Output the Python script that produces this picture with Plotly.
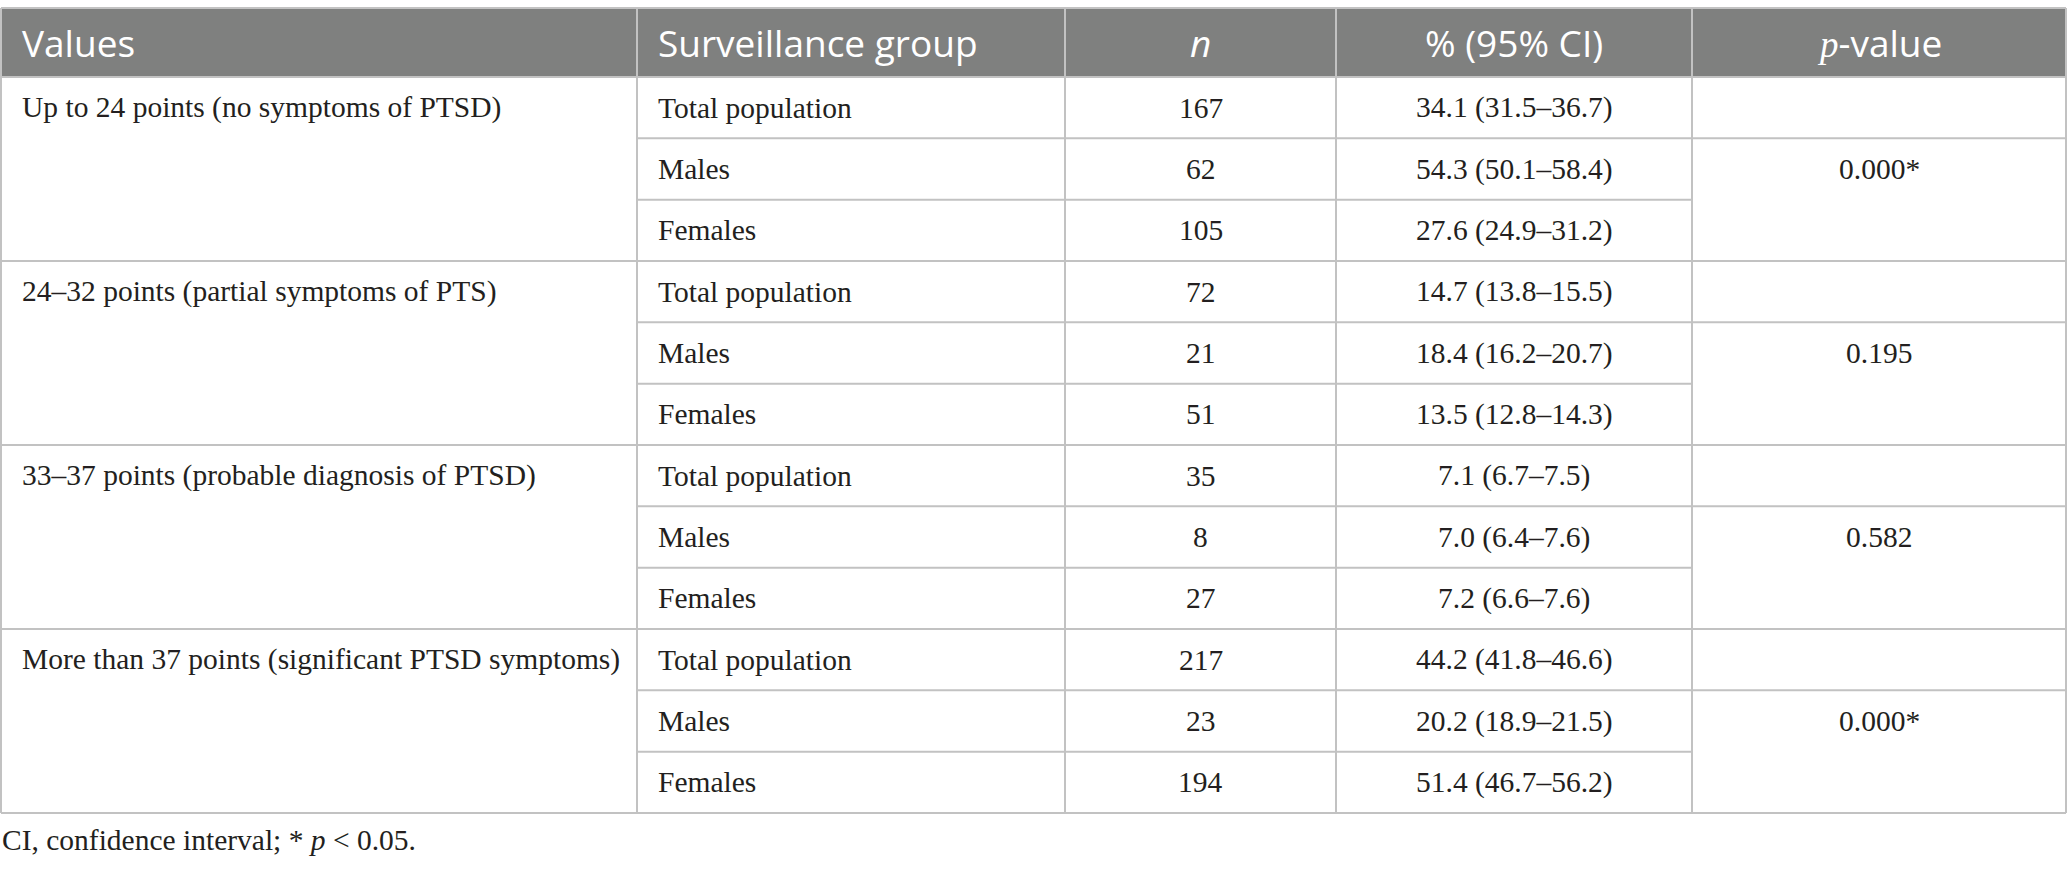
import plotly.graph_objects as go

# table content
header = ["Values", "Surveillance group", "<i>n</i>", "% (95% CI)",
          "<span style='font-family:Liberation Serif'><i>p</i></span>-value"]
score_bands = [
    "Up to 24 points (no symptoms of PTSD)",
    "24–32 points (partial symptoms of PTS)",
    "33–37 points (probable diagnosis of PTSD)",
    "More than 37 points (significant PTSD symptoms)",
]
groups = ["Total population", "Males", "Females"]
counts = [
    [167, 62, 105],
    [72, 21, 51],
    [35, 8, 27],
    [217, 23, 194],
]
percents = [
    ["34.1 (31.5–36.7)", "54.3 (50.1–58.4)", "27.6 (24.9–31.2)"],
    ["14.7 (13.8–15.5)", "18.4 (16.2–20.7)", "13.5 (12.8–14.3)"],
    ["7.1 (6.7–7.5)", "7.0 (6.4–7.6)", "7.2 (6.6–7.6)"],
    ["44.2 (41.8–46.6)", "20.2 (18.9–21.5)", "51.4 (46.7–56.2)"],
]
p_values = ["0.000*", "0.195", "0.582", "0.000*"]
footnote = "CI, confidence interval; * <i>p</i> &lt; 0.05."

# layout (pixel units)
W, H = 2067, 872
col_edges = [1, 637, 1065, 1336, 1692, 2066]
head_top, head_bot = 8, 77
table_bot = 813
n_rows = len(score_bands) * len(groups)
row_h = (table_bot - head_bot) / n_rows
pad = 19

line_col = "#c2c2c2"
head_bg = "#7f807f"
ink = "#231f20"
serif = "Liberation Serif"
sans = "Open Sans"
body_size = 29.5
head_size = 37


def row_mid(i):
    return head_bot + row_h * (i + 0.5)


def row_top(i):
    return head_bot + row_h * i


shapes = [dict(type="rect", x0=col_edges[0], x1=col_edges[-1], y0=head_top, y1=head_bot,
               fillcolor=head_bg, line=dict(width=0), layer="below")]


def hline(x0, x1, y):
    shapes.append(dict(type="line", x0=x0, x1=x1, y0=y, y1=y,
                       line=dict(color=line_col, width=2)))


# horizontal rules
hline(col_edges[0], col_edges[-1], head_top)
hline(col_edges[0], col_edges[-1], head_bot)
for g in range(len(score_bands)):
    base = g * len(groups)
    hline(col_edges[1], col_edges[-1], row_top(base + 1))
    hline(col_edges[1], col_edges[4], row_top(base + 2))
    hline(col_edges[0], col_edges[-1], row_top(base + 3))

# vertical rules
for x in col_edges:
    shapes.append(dict(type="line", x0=x, x1=x, y0=head_top, y1=table_bot,
                       line=dict(color=line_col, width=2)))

annotations = []


def cell(text, x, y, anchor, family, size, color=ink):
    annotations.append(dict(text=text, x=x, y=y, xref="x", yref="y",
                            xanchor=anchor, yanchor="middle", showarrow=False,
                            font=dict(family=family, size=size, color=color)))


head_y = (head_top + head_bot) / 2
cell(header[0], col_edges[0] + pad, head_y, "left", sans, head_size, "white")
cell(header[1], col_edges[1] + pad, head_y, "left", sans, head_size, "white")
for c in (2, 3, 4):
    cell(header[c], (col_edges[c] + col_edges[c + 1]) / 2, head_y, "center", sans, head_size, "white")

for g, band in enumerate(score_bands):
    base = g * len(groups)
    cell(band, col_edges[0] + pad, row_mid(base), "left", serif, body_size)
    for k, grp in enumerate(groups):
        y = row_mid(base + k)
        cell(grp, col_edges[1] + pad, y, "left", serif, body_size)
        cell(str(counts[g][k]), (col_edges[2] + col_edges[3]) / 2, y, "center", serif, body_size)
        cell(percents[g][k], (col_edges[3] + col_edges[4]) / 2, y, "center", serif, body_size)
    cell(p_values[g], (col_edges[4] + col_edges[5]) / 2, row_mid(base + 1), "center", serif, body_size)

cell(footnote, 0, 840, "left", serif, body_size)

fig = go.Figure()
fig.update_layout(
    width=W, height=H,
    margin=dict(l=0, r=0, t=0, b=0),
    paper_bgcolor="white", plot_bgcolor="white",
    xaxis=dict(range=[0, W], visible=False, fixedrange=True),
    yaxis=dict(range=[H, 0], visible=False, fixedrange=True),
    shapes=shapes,
    annotations=annotations,
    showlegend=False,
)

fig.write_html("out.html", config={"displayModeBar": False},
               post_script="document.body.style.margin='0';")
